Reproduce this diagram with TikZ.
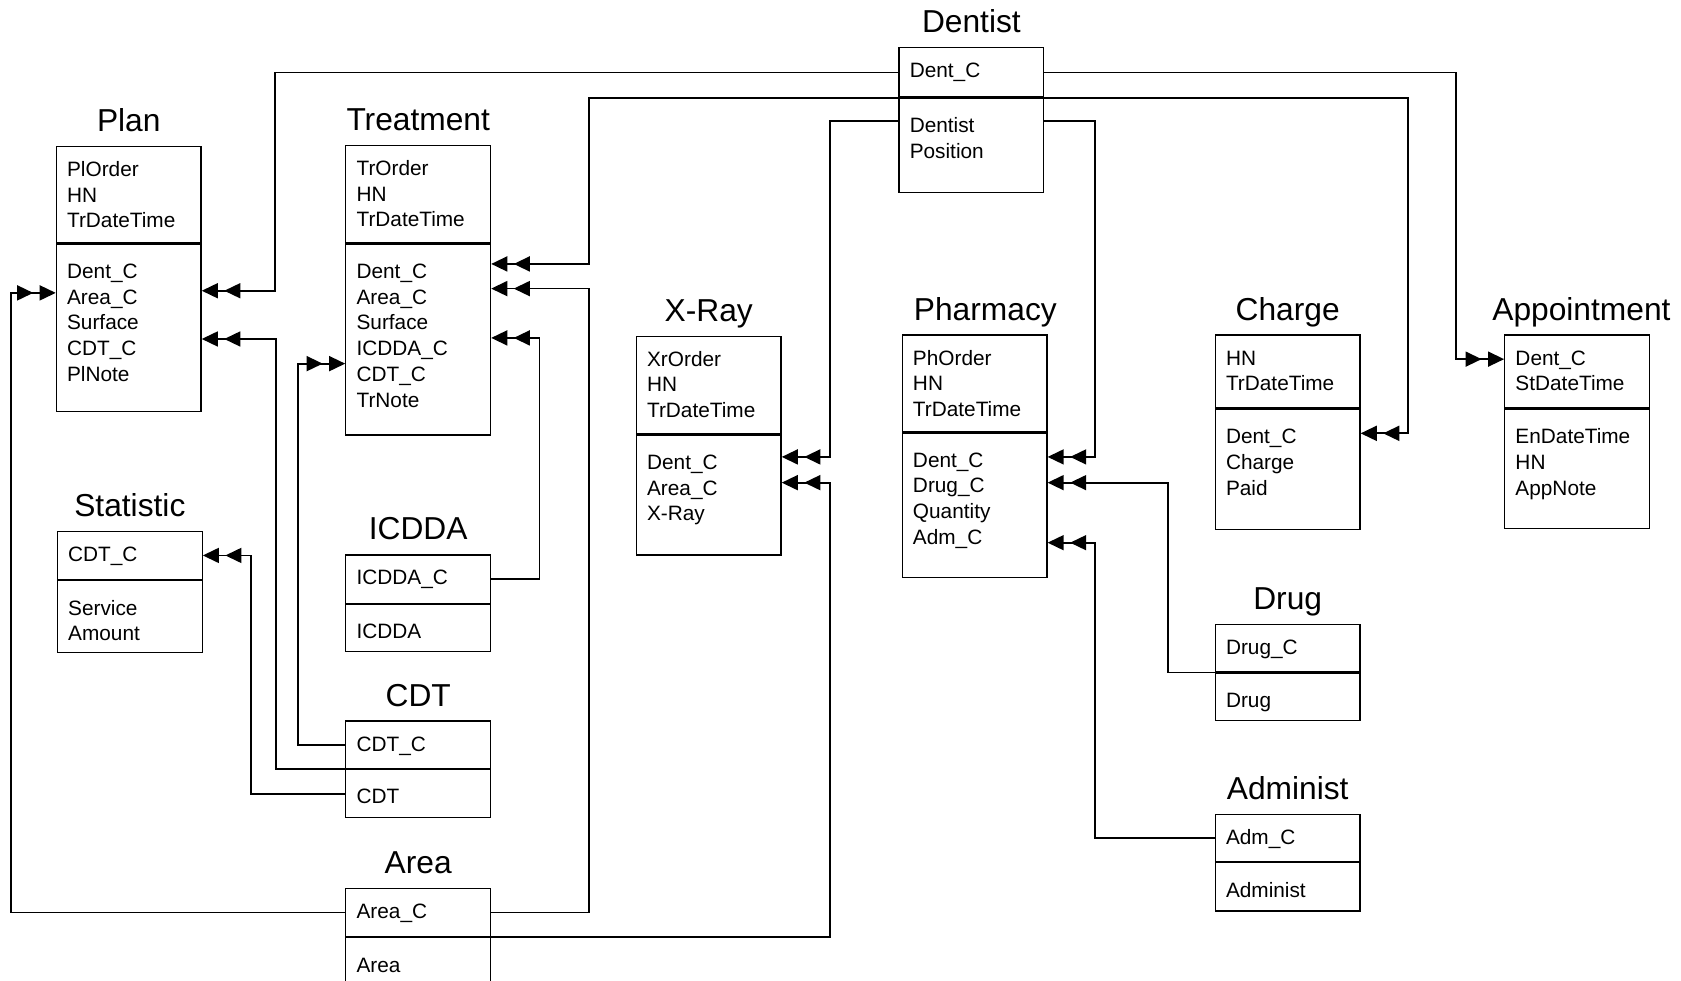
\documentclass[tikz,border=0pt]{standalone}
\usepackage{fontspec}
\setmainfont{Liberation Sans}
\usetikzlibrary{positioning,arrows.meta}

\begin{document}
\begin{tikzpicture}[
  x=0.5pt, y=-0.5pt,
  tab/.style={draw, line width=0.6pt, anchor=north west, minimum width=67.5pt,
    text width=57.5pt, align=left, inner xsep=5pt, inner ysep=0pt,
    text height=14pt, font=\fontsize{9.7}{12}\selectfont},
  tabbody/.style={tab, text height=16pt},
  tabtitle/.style={inner sep=0pt, text depth=0pt, font=\fontsize{14.8}{17}\selectfont},
  fk/.style={line width=0.8pt,
    -{Triangle[length=7.5pt,width=7pt,sep=3pt]Triangle[length=7.5pt,width=7pt]}}
]
\useasboundingbox (0,0) rectangle (1568,915);

% tables
\node[tab, text depth=9pt] (dent) at (838,44) {Dent\_C};
\node[tabbody, text depth=28pt, below=0pt of dent] (dent-b) {Dentist\\Position};
\node[tabtitle, above=6.5pt of dent] (dent-t) {Dentist};

\node[tab, text depth=31pt] (plan) at (52,136) {PlOrder\\HN\\TrDateTime};
\node[tabbody, text depth=62pt, below=0pt of plan] (plan-b) {Dent\_C\\Area\_C\\Surface\\CDT\_C\\PlNote};
\node[tabtitle, above=6.5pt of plan] (plan-t) {Plan};

\node[tab, text depth=31.5pt] (treat) at (322,135) {TrOrder\\HN\\TrDateTime};
\node[tabbody, text depth=73pt, below=0pt of treat] (treat-b) {Dent\_C\\Area\_C\\Surface\\ICDDA\_C\\CDT\_C\\TrNote};
\node[tabtitle, above=6.5pt of treat] (treat-t) {Treatment};

\node[tab, text depth=31.5pt] (xray) at (593,313) {XrOrder\\HN\\TrDateTime};
\node[tabbody, text depth=40pt, below=0pt of xray] (xray-b) {Dent\_C\\Area\_C\\X-Ray};
\node[tabtitle, above=6.5pt of xray] (xray-t) {X-Ray};

\node[tab, text depth=31pt] (pharm) at (841,312) {PhOrder\\HN\\TrDateTime};
\node[tabbody, text depth=51.5pt, below=0pt of pharm] (pharm-b) {Dent\_C\\Drug\_C\\Quantity\\Adm\_C};
\node[tabtitle, above=6.5pt of pharm, xshift=5pt] (pharm-t) {Pharmacy};

\node[tab, text depth=20pt] (charge) at (1133,312) {HN\\TrDateTime};
\node[tabbody, text depth=40pt, below=0pt of charge] (charge-b) {Dent\_C\\Charge\\Paid};
\node[tabtitle, above=6.5pt of charge] (charge-t) {Charge};

\node[tab, text depth=20pt] (appt) at (1403,312) {Dent\_C\\StDateTime};
\node[tabbody, text depth=39.5pt, below=0pt of appt] (appt-b) {EnDateTime\\HN\\AppNote};
\node[tabtitle, above=6.5pt of appt, xshift=2pt] (appt-t) {Appointment};

\node[tab, text depth=8.5pt] (stat) at (53,495) {CDT\_C};
\node[tabbody, text depth=17.5pt, below=0pt of stat] (stat-b) {Service\\Amount};
\node[tabtitle, above=6.5pt of stat] (stat-t) {Statistic};

\node[tab, text depth=8.5pt] (icdda) at (322,517) {ICDDA\_C};
\node[tabbody, text depth=6pt, below=0pt of icdda] (icdda-b) {ICDDA};
\node[tabtitle, above=6.5pt of icdda] (icdda-t) {ICDDA};

\node[tab, text depth=8pt] (cdt) at (322,672) {CDT\_C};
\node[tabbody, text depth=6.5pt, below=0pt of cdt] (cdt-b) {CDT};
\node[tabtitle, above=6.5pt of cdt] (cdt-t) {CDT};

\node[tab, text depth=8.5pt] (area) at (322,828) {Area\_C};
\node[tabbody, text depth=6.5pt, below=0pt of area] (area-b) {Area};
\node[tabtitle, above=6.5pt of area] (area-t) {Area};

\node[tab, text depth=8pt] (drug) at (1133,582) {Drug\_C};
\node[tabbody, text depth=6pt, below=0pt of drug] (drug-b) {Drug};
\node[tabtitle, above=6.5pt of drug] (drug-t) {Drug};

\node[tab, text depth=8pt] (adm) at (1133,759) {Adm\_C};
\node[tabbody, text depth=6.5pt, below=0pt of adm] (adm-b) {Administ};
\node[tabtitle, above=6.5pt of adm] (adm-t) {Administ};

% links from Dentist
\draw[fk] (dent.west) -| ([shift={(68,44)}]plan-b.north east) -- ([shift={(0,44)}]plan-b.north east);
\draw[fk] (dent.south west) -| ([shift={(91,19)}]treat-b.north east) -- ([shift={(0,19)}]treat-b.north east);
\draw[fk] (dent.south east) -| ([shift={(44,23)}]charge-b.north east) -- ([shift={(0,23)}]charge-b.north east);
\draw[fk] ([shift={(0,22)}]dent-b.north west) -| ([shift={(45,21)}]xray-b.north east) -- ([shift={(0,21)}]xray-b.north east);
\draw[fk] ([shift={(0,22)}]dent-b.north east) -| ([shift={(44,23)}]pharm-b.north east) -- ([shift={(0,23)}]pharm-b.north east);
\draw[fk] (dent.east) -| ([shift={(-45,23)}]appt.north west) -- ([shift={(0,23)}]appt.north west);

% links from Area
\draw[fk] (area.west) -| ([shift={(-42,46)}]plan-b.north west) -- ([shift={(0,46)}]plan-b.north west);
\draw[fk] (area.east) -| ([shift={(91,42)}]treat-b.north east) -- ([shift={(0,42)}]treat-b.north east);
\draw[fk] (area.south east) -| ([shift={(45,45)}]xray-b.north east) -- ([shift={(0,45)}]xray-b.north east);

% links from CDT and ICDDA
\draw[fk] (cdt.west) -| ([shift={(-44,112)}]treat-b.north west) -- ([shift={(0,112)}]treat-b.north west);
\draw[fk] (cdt.south west) -| ([shift={(69,89)}]plan-b.north east) -- ([shift={(0,89)}]plan-b.north east);
\draw[fk] (cdt-b.west) -| ([shift={(45,0)}]stat.east) -- (stat.east);
\draw[fk] (icdda.east) -| ([shift={(45,88)}]treat-b.north east) -- ([shift={(0,88)}]treat-b.north east);

% links into Pharmacy
\draw[fk] (drug.south west) -| ([shift={(112,47)}]pharm-b.north east) -- ([shift={(0,47)}]pharm-b.north east);
\draw[fk] (adm.west) -| ([shift={(44,103)}]pharm-b.north east) -- ([shift={(0,103)}]pharm-b.north east);
\end{tikzpicture}
\end{document}
